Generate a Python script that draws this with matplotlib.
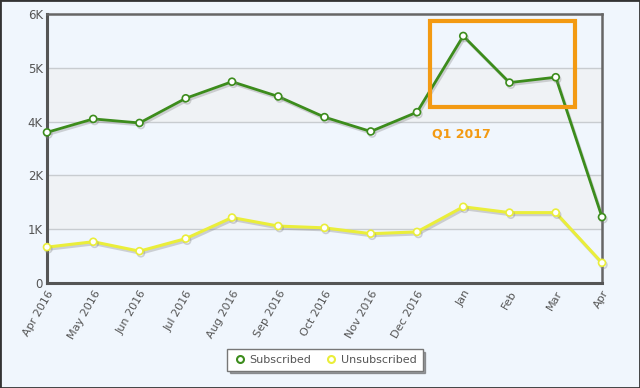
import matplotlib
matplotlib.use("Agg")
import matplotlib.pyplot as plt
from matplotlib.patches import Rectangle
from matplotlib.lines import Line2D
import matplotlib.patheffects as pe

months = ["Apr 2016", "May 2016", "Jun 2016", "Jul 2016", "Aug 2016", "Sep 2016",
          "Oct 2016", "Nov 2016", "Dec 2016", "Jan", "Feb", "Mar", "Apr"]
subscribed = [3360, 3660, 3570, 4120, 4490, 4160, 3700, 3380, 3810, 5510, 4470, 4590, 1470]
unsubscribed = [800, 920, 710, 990, 1460, 1270, 1230, 1100, 1140, 1700, 1570, 1570, 450]
yticks = [0, 1200, 2400, 3600, 4800, 6000]
ytick_labels = ["0", "1K", "2K", "4K", "5K", "6K"]

BG = "#F0F6FD"
GREEN = "#3C8C1C"
YELLOW = "#EAEE3A"
ORANGE = "#F39A12"
TXT = "#555555"

fig = plt.figure(figsize=(6.4, 3.88), dpi=100, facecolor=BG)
fig.patches.append(Rectangle((0, 0), 1, 1, transform=fig.transFigure, fill=False,
                             edgecolor="#333333", linewidth=2, zorder=10))
ax = fig.add_axes([47/640, 1 - 283/388, 555/640, 269/388])
ax.set_facecolor(BG)

x = list(range(len(months)))
ax.set_xlim(0, len(months) - 1)
ax.set_ylim(0, 6000)

# alternating bands
for i in range(len(yticks) - 1):
    if i % 2 == 1:
        ax.axhspan(yticks[i], yticks[i + 1], color="#EFF2F5", zorder=0, lw=0)
for t in yticks[1:-1]:
    ax.axhline(t, color="#C8CCD0", lw=1, zorder=1)

shadow = [pe.SimpleLineShadow(offset=(1, -1.5), shadow_color="#888888", alpha=0.35), pe.Normal()]
ax.plot(x, subscribed, color=GREEN, lw=2, zorder=4, marker="o", markersize=5,
        markerfacecolor="white", markeredgecolor=GREEN, markeredgewidth=1.2,
        path_effects=shadow, clip_on=False)
ax.plot(x, unsubscribed, color=YELLOW, lw=2.2, zorder=3, marker="o", markersize=5,
        markerfacecolor="white", markeredgecolor=YELLOW, markeredgewidth=1.2,
        path_effects=shadow, clip_on=False)

ax.set_xticks(x)
ax.set_xticklabels(months, rotation=60, ha="right", rotation_mode="anchor",
                   fontsize=8, color=TXT)
ax.set_yticks(yticks)
ax.set_yticklabels(ytick_labels, fontsize=8.5, color=TXT)
ax.tick_params(axis="both", length=0, pad=3)
ax.tick_params(axis="x", pad=4)

for side in ["left", "bottom"]:
    ax.spines[side].set_color("#555555")
    ax.spines[side].set_linewidth(2.2)
for side in ["top", "right"]:
    ax.spines[side].set_color("#666666")
    ax.spines[side].set_linewidth(1.8)

# annotation box
ax.add_patch(Rectangle((8.28, 3930), 11.42 - 8.28, 5850 - 3930, fill=False,
                       edgecolor=ORANGE, linewidth=3, zorder=6))
ax.text(8.32, 3330, "Q1 2017", color=ORANGE, fontsize=9, fontweight="bold",
        ha="left", va="center", zorder=6)

handles = [
    Line2D([], [], linestyle="none", marker="o", markersize=5, markerfacecolor="white",
           markeredgecolor=GREEN, markeredgewidth=1.5, label="Subscribed"),
    Line2D([], [], linestyle="none", marker="o", markersize=5, markerfacecolor="white",
           markeredgecolor=YELLOW, markeredgewidth=1.5, label="Unsubscribed"),
]
leg = fig.legend(handles=handles, loc="center", bbox_to_anchor=(325/640, 1 - 360/388),
                 ncol=2, fontsize=8, frameon=True, fancybox=False, shadow=True,
                 handletextpad=0.3, columnspacing=1.2, borderpad=0.5, handlelength=1.2)
leg.get_frame().set_edgecolor("#777777")
leg.get_frame().set_facecolor("white")
for t in leg.get_texts():
    t.set_color(TXT)

fig.savefig("out.png", dpi=100, facecolor=BG)
